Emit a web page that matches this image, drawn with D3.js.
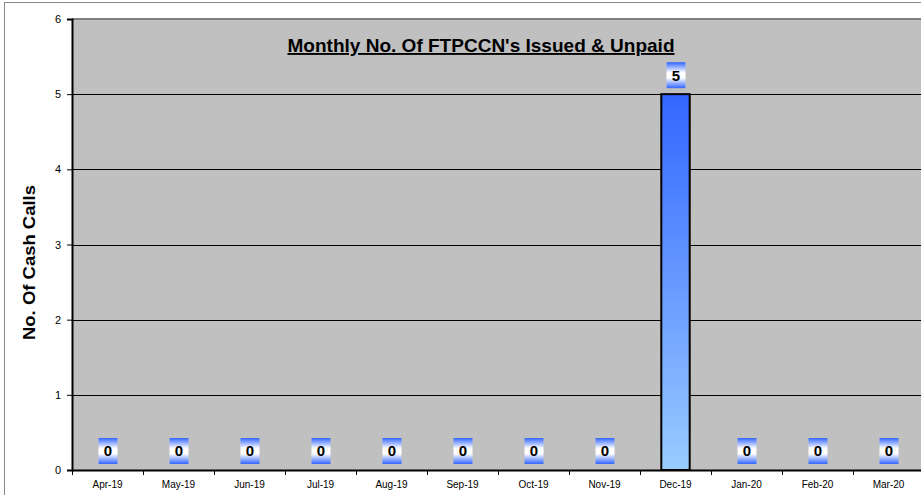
<!DOCTYPE html>
<html>
<head>
<meta charset="utf-8">
<script src="https://cdn.jsdelivr.net/npm/d3@7"></script>
<style>
  body { margin: 0; background: #fff; }
  svg { display: block; font-family: "Liberation Sans", Arial, sans-serif; }
</style>
</head>
<body>
<svg id="chart"></svg>
<script>
const months = ["Apr-19", "May-19", "Jun-19", "Jul-19", "Aug-19", "Sep-19",
                "Oct-19", "Nov-19", "Dec-19", "Jan-20", "Feb-20", "Mar-20"];
const issuedUnpaid = [0, 0, 0, 0, 0, 0, 0, 0, 5, 0, 0, 0];
const yTicks = [0, 1, 2, 3, 4, 5, 6];

const width = 921, height = 495;
const margin = { top: 19, right: -3, bottom: 25, left: 72 };

const svg = d3.select("#chart")
    .attr("width", width)
    .attr("height", height);

// gradients
const defs = svg.append("defs");
const barGrad = defs.append("linearGradient")
    .attr("id", "barGrad").attr("x1", 0).attr("y1", 0).attr("x2", 0).attr("y2", 1);
barGrad.append("stop").attr("offset", "0%").attr("stop-color", "#3366ff");
barGrad.append("stop").attr("offset", "100%").attr("stop-color", "#99ccff");

const lblGrad = defs.append("linearGradient")
    .attr("id", "lblGrad").attr("x1", 0).attr("y1", 0).attr("x2", 0).attr("y2", 1);
lblGrad.append("stop").attr("offset", "0%").attr("stop-color", "#3366ff");
lblGrad.append("stop").attr("offset", "40%").attr("stop-color", "#ffffff");
lblGrad.append("stop").attr("offset", "60%").attr("stop-color", "#ffffff");
lblGrad.append("stop").attr("offset", "100%").attr("stop-color", "#3366ff");

// outer chart frame
svg.append("rect")
    .attr("x", 4.5).attr("y", 2.5)
    .attr("width", width + 10).attr("height", height + 10)
    .style("fill", "none")
    .style("stroke", "#888")
    .style("stroke-width", 1);

const x = d3.scaleBand()
    .domain(months)
    .range([margin.left, width - margin.right])
    .paddingInner(0.6)
    .paddingOuter(0.3);

const y = d3.scaleLinear()
    .domain([0, 6])
    .range([height - margin.bottom, margin.top]);

// plot area
svg.append("rect")
    .attr("x", margin.left).attr("y", margin.top)
    .attr("width", width - margin.right - margin.left)
    .attr("height", y(0) - y(6))
    .style("fill", "#c0c0c0");

// gridlines
svg.append("g")
    .selectAll("line")
    .data(yTicks.filter(d => d > 0 && d < 6))
    .enter()
    .append("line")
    .attr("x1", margin.left).attr("x2", width)
    .attr("y1", d => Math.round(y(d)) + 0.5)
    .attr("y2", d => Math.round(y(d)) + 0.5)
    .style("stroke", "#000")
    .style("stroke-width", 1);

// top border of plot
svg.append("line")
    .attr("x1", margin.left).attr("x2", width)
    .attr("y1", y(6)).attr("y2", y(6))
    .style("stroke", "#808080")
    .style("stroke-width", 2);

// bars
svg.append("g")
    .selectAll(".bar")
    .data(issuedUnpaid.map((v, i) => ({ month: months[i], value: v })))
    .enter()
    .append("rect")
    .classed("bar", true)
    .attr("x", d => x(d.month))
    .attr("y", d => y(d.value))
    .attr("width", x.bandwidth())
    .attr("height", d => y(0) - y(d.value))
    .style("fill", "url(#barGrad)")
    .style("stroke", d => d.value > 0 ? "#000" : "none")
    .style("stroke-width", 2);

// y axis
const yAxis = svg.append("g")
    .attr("transform", `translate(${margin.left},0)`)
    .call(d3.axisLeft(y).tickValues(yTicks).tickFormat(d3.format("d")).tickSize(5).tickPadding(6));
yAxis.select(".domain").style("stroke", "#000").style("stroke-width", 2);
yAxis.selectAll("text").style("font-size", "11px").style("fill", "#000");

// x axis
const xAxis = svg.append("g")
    .attr("transform", `translate(0,${y(0)})`)
    .call(d3.axisBottom(x).tickSize(0).tickPadding(11));
xAxis.select(".domain").style("stroke", "#000").style("stroke-width", 2);
xAxis.selectAll("text").style("font-size", "10px").style("fill", "#000");
const step = x.step();
xAxis.selectAll(".sep")
    .data(months)
    .enter()
    .append("line")
    .attr("x1", d => x(d) - x.paddingOuter() * step + 0.5)
    .attr("x2", d => x(d) - x.paddingOuter() * step + 0.5)
    .attr("y1", 0).attr("y2", 5)
    .style("stroke", "#000");

// data labels
const labels = svg.append("g")
    .selectAll(".lbl")
    .data(issuedUnpaid.map((v, i) => ({ month: months[i], value: v })))
    .enter()
    .append("g")
    .attr("transform", d => `translate(${x(d.month) + x.bandwidth() / 2},${y(d.value) - 19})`);
labels.append("rect")
    .attr("x", -9).attr("y", -13)
    .attr("width", 19).attr("height", 26)
    .style("fill", "url(#lblGrad)");
labels.append("text")
    .attr("text-anchor", "middle")
    .attr("x", 0.5)
    .attr("dy", "0.36em")
    .style("font-size", "15px")
    .style("font-weight", "bold")
    .text(d => d.value);

// title
svg.append("text")
    .attr("x", 481).attr("y", 52)
    .attr("text-anchor", "middle")
    .attr("textLength", 387)
    .attr("lengthAdjust", "spacingAndGlyphs")
    .style("font-size", "19px")
    .style("font-weight", "bold")
    .style("text-decoration", "underline")
    .text("Monthly No. Of FTPCCN's Issued & Unpaid");

// y axis title
svg.append("text")
    .attr("transform", `translate(35,${(y(0) + y(6)) / 2 + 18}) rotate(-90)`)
    .attr("text-anchor", "middle")
    .attr("textLength", 155)
    .attr("lengthAdjust", "spacingAndGlyphs")
    .style("font-size", "16px")
    .style("font-weight", "bold")
    .text("No. Of Cash Calls");
</script>
</body>
</html>
